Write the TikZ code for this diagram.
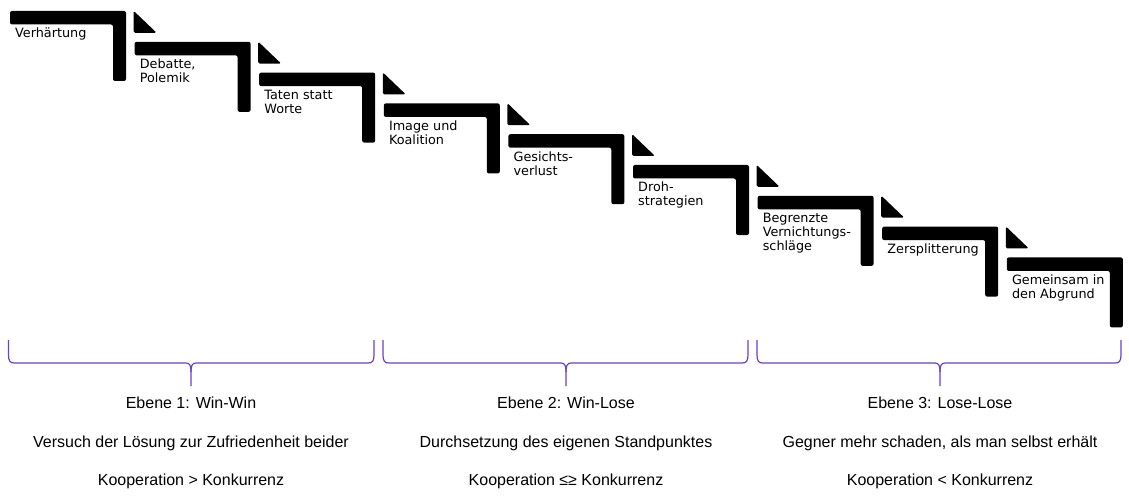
\documentclass[tikz,border=0pt]{standalone}
\usepackage{fontspec}
\setmainfont{Liberation Sans}
\newfontfamily\stepfont{DejaVu Sans}
\definecolor{bracecol}{RGB}{107,63,199}
\tikzset{
  stepshape/.style={fill=black, rounded corners=2pt},
  stepmark/.style={fill=black, rounded corners=1.5pt},
  steplabel/.style={anchor=north west, inner sep=0pt, align=left,
    font=\stepfont\fontsize{12.8}{14}\selectfont},
  bracestyle/.style={draw=bracecol, line width=1.2pt},
  levellabel/.style={anchor=base, inner sep=0pt,
    font=\fontsize{16}{18}\selectfont}
}
\newcommand{\LevelBrace}[4]{%
  \draw[bracestyle] (#1,340) -- (#1,355) .. controls (#1,361.5) and (#1+2,363) .. (#1+6,363)
    -- (#2-5,363) .. controls (#2-1,363) and (#2,366) .. (#2,372) -- (#2,386);
  \draw[bracestyle] (#2,372) .. controls (#2,366) and (#2+1,363) .. (#2+5,363)
    -- (#3-6,363) .. controls (#3-2,363) and (#3,361.5) .. (#3,355) -- (#3,340);
  \coordinate (#4) at (#2,386);
}
\begin{document}
\begin{tikzpicture}[x=1pt,y=-1pt]
\useasboundingbox (0,0) rectangle (1129,497);
\foreach \i/\txt in {0/{Verhärtung},
                     1/{Debatte,\\Polemik},
                     2/{Taten statt\\Worte},
                     3/{Image und\\Koalition},
                     4/{Gesichts-\\verlust},
                     5/{Droh-\\strategien},
                     6/{Begrenzte\\Vernichtungs-\\schläge},
                     7/{Zersplitterung},
                     8/{Gemeinsam in\\den Abgrund}}{
  \pgfmathsetmacro\xa{10+124.6*\i}
  \pgfmathsetmacro\ya{11+30.8*\i}
  \fill[stepshape] (\xa,\ya) -- ++(116,0) -- ++(0,70) -- ++(-13,0)
       -- ++(0,-56.5) -- ++(-103,0) -- cycle;
  \ifnum\i>0
    \fill[stepmark] (\xa-1,\ya-31) -- (\xa+22,\ya-9) -- (\xa-1,\ya-9) -- cycle;
  \fi
  \node[steplabel] (s\i) at (\xa+5,\ya+17) {\txt};
}
\LevelBrace{8.5}{191}{374}{b1}
\LevelBrace{383}{566}{748}{b2}
\LevelBrace{757}{940}{1121}{b3}
\node[levellabel] (e1) at (191,408) {Ebene 1: Win-Win};
\node[levellabel] (d1) at (191,447) {Versuch der Lösung zur Zufriedenheit beider};
\node[levellabel] (k1) at (191,485.5) {Kooperation > Konkurrenz};
\node[levellabel] (e2) at (566,408) {Ebene 2: Win-Lose};
\node[levellabel] (d2) at (566,447) {Durchsetzung des eigenen Standpunktes};
\node[levellabel] (k2) at (566,485.5) {Kooperation ≤≥ Konkurrenz};
\node[levellabel] (e3) at (940,408) {Ebene 3: Lose-Lose};
\node[levellabel] (d3) at (940,447) {Gegner mehr schaden, als man selbst erhält};
\node[levellabel] (k3) at (940,485.5) {Kooperation < Konkurrenz};
\end{tikzpicture}
\end{document}
